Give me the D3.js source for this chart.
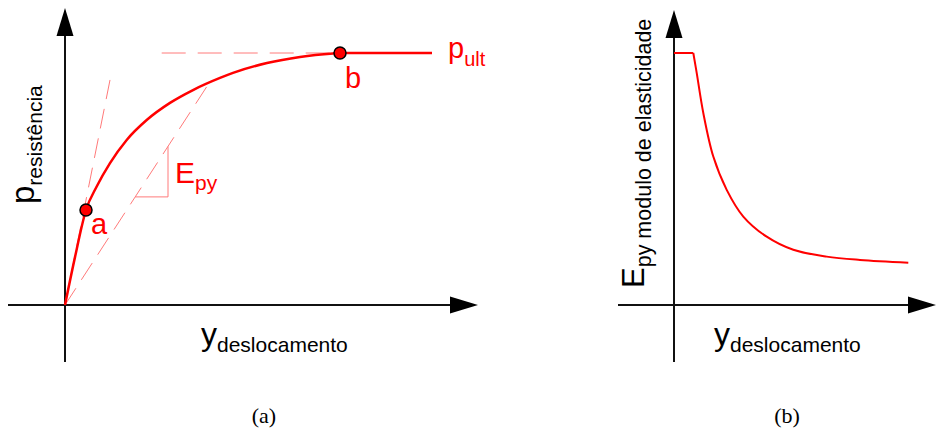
<!DOCTYPE html>
<html><head><meta charset="utf-8">
<script src="https://cdn.jsdelivr.net/npm/d3@7"></script>
<style>html,body{margin:0;padding:0;background:#fff;}svg{display:block;}</style>
</head><body>
<script>
// ---- data (a): p-y curve (displacement units, resistance as % of p_ult)
const curveA_y = [0, 10, 21, 31.7, 45, 61.7, 81.7, 105, 128, 155, 168, 202, 235, 268, 275, 367];
const curveA_p = [0, 19, 37.7, 47, 56.3, 65.5, 73.4, 80.2, 85.3, 90.1, 92.1, 96, 98.4, 99.8, 100, 100];
const pointNames = ["a", "b"];
const pointY = [21, 275];
const pointP = [37.7, 100];
const tangentEnd = [45, 89.3];      // initial tangent through origin
const secantEnd = [141.7, 86.6];    // secant E_py through origin
const pultLineStart = 96.7;         // dashed p_ult line starts here
const triangleY = [70.2, 103];      // slope triangle corners (y)
const triangleP = [42.9, 62.9];     // slope triangle corners (p)
// ---- data (b): E_py vs displacement
const plateauY = [0, 19.3];
const plateauE = [100, 100];
const decayY = [19.3, 22.7, 29.3, 39.3, 52.7, 69.3, 92.7, 119.3, 152.7, 186, 234.3];
const decayE = [100, 92.1, 76.2, 58.9, 45.7, 35.1, 27.1, 21.9, 19.2, 17.9, 16.8];
// labels
const captions = ["(a)", "(b)"];

const W = 936, H = 430;
const svg = d3.select("body").append("svg").attr("width", W).attr("height", H);
const sans = "'Liberation Sans', Arial, sans-serif";
const RED = "#ff0000", PINK = "#ff7a7a", AX = "#111";

// scales
const xA = d3.scaleLinear().domain([0, 400]).range([65, 465]);
const yA = d3.scaleLinear().domain([0, 100]).range([305, 53]);
const xB = d3.scaleLinear().domain([0, 260]).range([674, 934]);
const yB = d3.scaleLinear().domain([0, 100]).range([305, 53]);

function axes(x0, y0, yTop, yBot, xLeft, xRight) {
  const g = svg.append("g");
  g.append("line").attr("x1", x0).attr("x2", x0).attr("y1", yTop + 20).attr("y2", yBot)
    .attr("stroke", AX).attr("stroke-width", 2);
  g.append("line").attr("x1", xLeft).attr("x2", xRight - 20).attr("y1", y0).attr("y2", y0)
    .attr("stroke", AX).attr("stroke-width", 2);
  g.append("path").attr("d", `M${x0},${yTop} L${x0 - 8.5},${yTop + 28} L${x0 + 8.5},${yTop + 28}Z`).attr("fill", "#000");
  g.append("path").attr("d", `M${xRight},${y0} L${xRight - 28},${y0 - 8.5} L${xRight - 28},${y0 + 8.5}Z`).attr("fill", "#000");
}
axes(xA(0), yA(0), 8, 362, 8, 478);
axes(xB(0), yB(0), 10, 362, 618, 936);

// ---- panel a
const gA = svg.append("g");
const dashed = (x1, y1, x2, y2, dash) => gA.append("line")
  .attr("x1", x1).attr("y1", y1).attr("x2", x2).attr("y2", y2)
  .attr("stroke", PINK).attr("stroke-width", 1).attr("stroke-dasharray", dash);
dashed(xA(0), yA(0), xA(tangentEnd[0]), yA(tangentEnd[1]), "20,10");
dashed(xA(0), yA(0), xA(secantEnd[0]), yA(secantEnd[1]), "20,10");
dashed(xA(pultLineStart), yA(100), xA(pointY[1]), yA(100), "24,12");
gA.append("path")
  .attr("d", `M${xA(triangleY[0])},${yA(triangleP[0])} L${xA(triangleY[1])},${yA(triangleP[0])} L${xA(triangleY[1])},${yA(triangleP[1])}`)
  .attr("fill", "none").attr("stroke", PINK).attr("stroke-width", 1);

const lineA = d3.line().x((d, i) => xA(curveA_y[i])).y((d, i) => yA(curveA_p[i])).curve(d3.curveMonotoneX);
gA.append("path").attr("d", lineA(curveA_y)).attr("fill", "none").attr("stroke", RED).attr("stroke-width", 2.5);

pointY.forEach((v, i) => {
  gA.append("circle").attr("cx", xA(v)).attr("cy", yA(pointP[i])).attr("r", 6)
    .attr("fill", RED).attr("stroke", "#000").attr("stroke-width", 1.5);
});

function label(g, x, y, main, sub, fMain, fSub, dy, color, rotate) {
  const t = g.append("text").attr("transform", `translate(${x},${y})` + (rotate ? " rotate(-90)" : ""))
    .attr("font-family", sans).attr("fill", color);
  t.append("tspan").attr("font-size", fMain).text(main);
  if (sub) t.append("tspan").attr("font-size", fSub).attr("dy", dy).text(sub);
  return t;
}
label(gA, 91, 234, pointNames[0], null, 29, 0, 0, RED);
label(gA, 345, 88, pointNames[1], null, 29, 0, 0, RED);
label(gA, 448, 58, "p", "ult", 29, 20, 8, RED);
label(gA, 175, 183, "E", "py", 30, 21, 7, RED);
label(gA, 201, 345, "y", "deslocamento", 32, 21, 7, "#000");
label(gA, 34, 204, "p", "resistência", 33, 21, 8, "#000", true);

// ---- panel b
const gB = svg.append("g");
const lineB = d3.line().x(d => xB(d[0])).y(d => yB(d[1]));
gB.append("path").attr("d", lineB(plateauY.map((v, i) => [v, plateauE[i]])))
  .attr("fill", "none").attr("stroke", RED).attr("stroke-width", 2);
gB.append("path").attr("d", lineB.curve(d3.curveCatmullRom.alpha(0.5))(decayY.map((v, i) => [v, decayE[i]])))
  .attr("fill", "none").attr("stroke", RED).attr("stroke-width", 2);
label(gB, 714, 345, "y", "deslocamento", 32, 21, 7, "#000");
label(gB, 644, 288, "E", "py modulo de elasticidade", 31, 21.5, 7, "#000", true);

// captions
[264, 787].forEach((cx, i) => {
  svg.append("text").attr("x", cx).attr("y", 423).attr("text-anchor", "middle")
    .attr("font-family", "'Liberation Serif', 'Times New Roman', serif").attr("font-size", 22)
    .attr("fill", "#000").text(captions[i]);
});
</script>
</body></html>
